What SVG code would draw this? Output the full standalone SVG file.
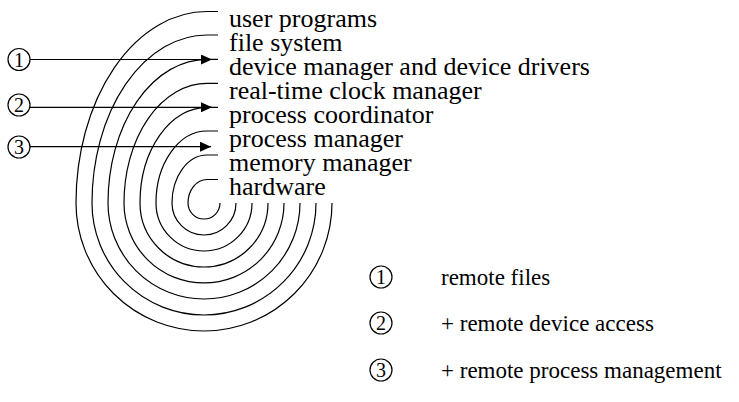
<svg xmlns="http://www.w3.org/2000/svg" width="739" height="402" viewBox="0 0 739 402">
<style>
.c{fill:none;stroke:#000;stroke-width:1.2}
.a{fill:none;stroke:#000;stroke-width:1.2}
.n{fill:#fff;stroke:#000;stroke-width:1.2}
.t{font-family:"Liberation Serif","Times New Roman",serif;font-size:26px;fill:#000}
.d{font-family:"Liberation Serif","Times New Roman",serif;font-size:20px;fill:#000;text-anchor:middle}
.l{font-family:"Liberation Serif","Times New Roman",serif;font-size:23px;fill:#000}
</style>
<defs>
<marker id="ah" markerUnits="userSpaceOnUse" markerWidth="11" markerHeight="10" refX="11" refY="5" orient="auto">
<path d="M0,0 L11,5 L0,10 z" fill="#000"/>
</marker>
</defs>
<g id="layers">
<path class="c" d="M218 11.5 H207 A131 191.5 0 0 0 76 203 A128 128 0 0 0 332 203"/>
<path class="c" d="M218 35 H207 A115 168 0 0 0 92 203 A112 112 0 0 0 316 203"/>
<path class="c" d="M218 59.3 H207 A99 143.7 0 0 0 108 203 A96 96 0 0 0 300 203"/>
<path class="c" d="M218 83.3 H207 A83 119.7 0 0 0 124 203 A80 80 0 0 0 284 203"/>
<path class="c" d="M218 107.3 H207 A67 95.7 0 0 0 140 203 A64 64 0 0 0 268 203"/>
<path class="c" d="M218 131 H207 A51 72 0 0 0 156 203 A48 48 0 0 0 252 203"/>
<path class="c" d="M218 155 H207 A35 48 0 0 0 172 203 A32 32 0 0 0 236 203"/>
<path class="c" d="M218 179.5 H207 A19 23.5 0 0 0 188 203 A16 16 0 0 0 220 203"/>
</g>
<g id="labels">
<text class="t" x="229" y="27">user programs</text>
<text class="t" x="229" y="51">file system</text>
<text class="t" x="229" y="75">device manager and device drivers</text>
<text class="t" x="229" y="99">real-time clock manager</text>
<text class="t" x="229" y="123">process coordinator</text>
<text class="t" x="229" y="147">process manager</text>
<text class="t" x="229" y="171">memory manager</text>
<text class="t" x="229" y="195">hardware</text>
</g>
<g id="connectors">
<line class="a" x1="30" y1="59.5" x2="212" y2="59.5" marker-end="url(#ah)"/>
<line class="a" x1="30" y1="107.3" x2="212" y2="107.3" marker-end="url(#ah)"/>
<line class="a" x1="30" y1="146.7" x2="211" y2="146.7" marker-end="url(#ah)"/>
</g>
<g id="node1"><circle class="n" cx="19" cy="59.5" r="11"/><text class="d" x="19" y="66.5">1</text></g>
<g id="node2"><circle class="n" cx="19" cy="105" r="11"/><text class="d" x="19" y="112">2</text></g>
<g id="node3"><circle class="n" cx="19" cy="147" r="11"/><text class="d" x="19" y="154">3</text></g>
<g id="legend">
<g id="legend1"><circle class="n" cx="381" cy="277" r="11"/><text class="d" x="381" y="284">1</text><text class="l" x="441" y="285">remote files</text></g>
<g id="legend2"><circle class="n" cx="381" cy="323" r="11"/><text class="d" x="381" y="330">2</text><text class="l" x="441" y="331">+ remote device access</text></g>
<g id="legend3"><circle class="n" cx="381" cy="370" r="11"/><text class="d" x="381" y="377">3</text><text class="l" x="441" y="378">+ remote process management</text></g>
</g>
</svg>
